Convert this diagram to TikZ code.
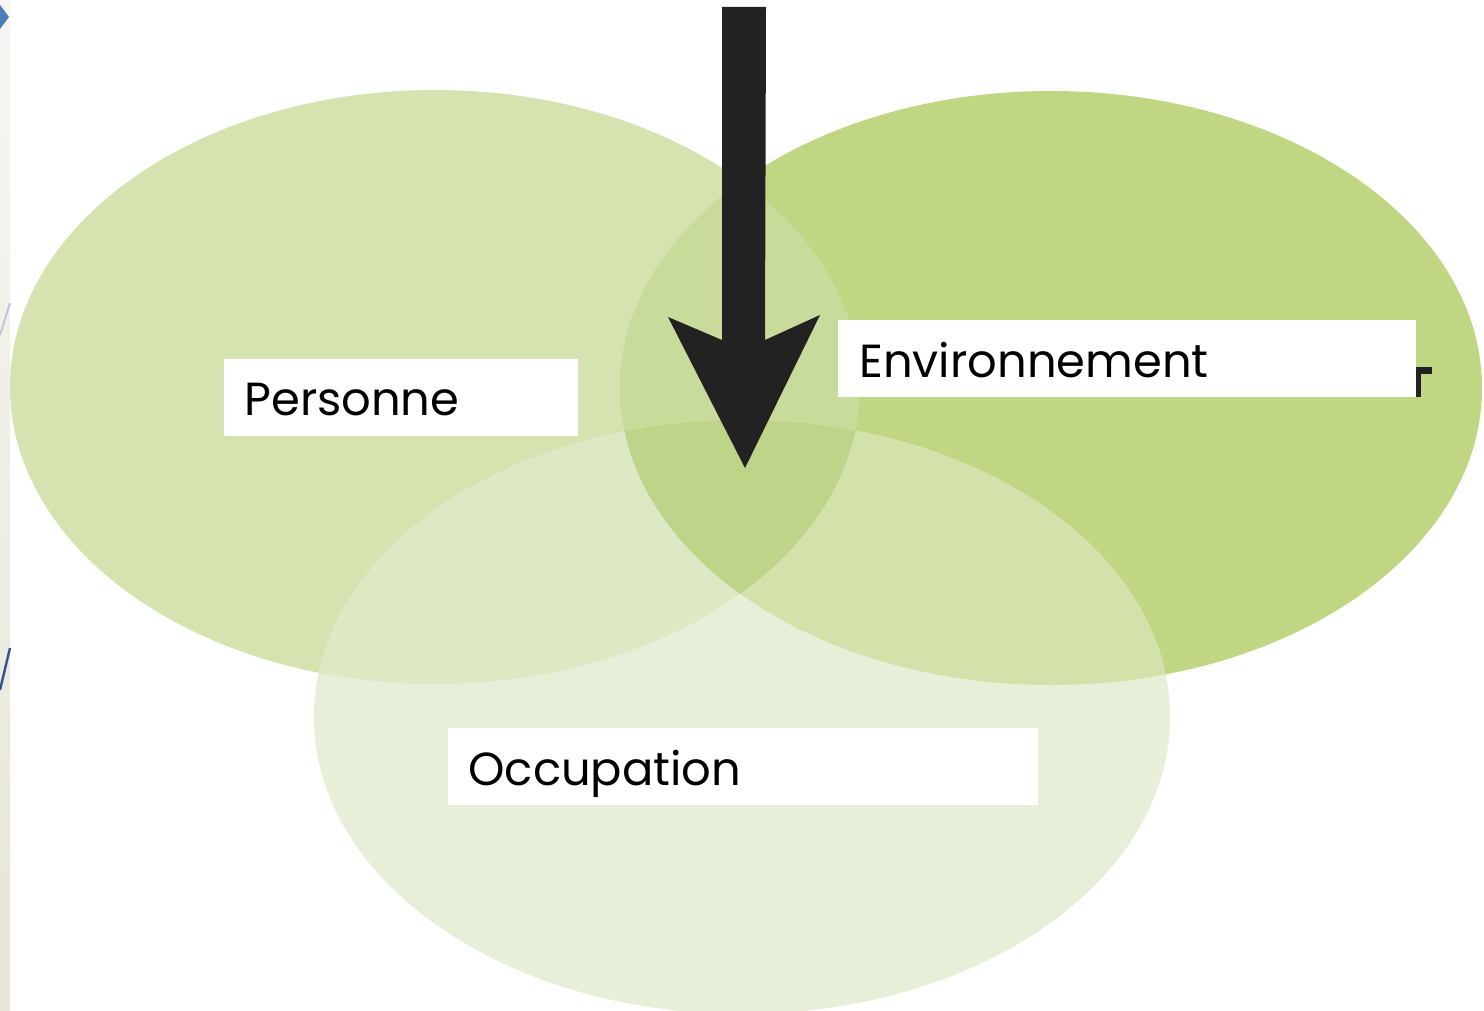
\documentclass[tikz,border=0pt]{standalone}
\usepackage{fontspec}
\setmainfont{Poppins}
\definecolor{cL}{HTML}{D5E3B0}
\definecolor{cR}{HTML}{C1D682}
\definecolor{cB}{HTML}{E7EFD8}
\definecolor{cLR}{HTML}{C9DB9A}
\definecolor{cLB}{HTML}{DDE8C4}
\definecolor{cRB}{HTML}{D3E1AB}
\definecolor{cLRB}{HTML}{BED489}
\definecolor{arrowc}{HTML}{222222}
\definecolor{stripTop}{HTML}{F7F6F2}
\definecolor{stripBot}{HTML}{E8E4D7}
\definecolor{blueA}{HTML}{4A7EBB}
\definecolor{blueB}{HTML}{B9C9E0}
\definecolor{blueC}{HTML}{2F5597}
\begin{document}
\begin{tikzpicture}[x=0.5pt,y=-0.5pt,
  lblbox/.style={fill=white, draw=none, inner sep=0pt, minimum height=38.5pt},
  lbltext/.style={inner sep=0pt, anchor=base west, font=\fontsize{23.2pt}{28pt}\selectfont, text=black}]
\useasboundingbox (0,0) rectangle (1484,1011);
\fill[white] (0,0) rectangle (1484,1011);
% ellipses
\fill[cL] (435,387) ellipse [x radius=425, y radius=297];
\fill[cR] (1051,388) ellipse [x radius=431, y radius=297];
\fill[cB] (742,717) ellipse [x radius=428, y radius=297];
\begin{scope}
  \clip (435,387) ellipse [x radius=425, y radius=297];
  \fill[cLR] (1051,388) ellipse [x radius=431, y radius=297];
  \fill[cLB] (742,717) ellipse [x radius=428, y radius=297];
\end{scope}
\begin{scope}
  \clip (1051,388) ellipse [x radius=431, y radius=297];
  \fill[cRB] (742,717) ellipse [x radius=428, y radius=297];
\end{scope}
\begin{scope}
  \clip (435,387) ellipse [x radius=425, y radius=297];
  \clip (1051,388) ellipse [x radius=431, y radius=297];
  \fill[cLRB] (742,717) ellipse [x radius=428, y radius=297];
\end{scope}
% left strip
\shade[top color=stripTop, bottom color=stripBot] (0,0) rectangle (10,1011);
\fill[blueA] (0,5) -- (9,17) -- (0,29) -- cycle;
\draw[blueB, line width=1pt] (0,335) -- (10,303);
\draw[blueC, line width=1.2pt] (0,690) -- (10,648);
% residual dark mark behind Environnement box
\fill[arrowc] (1416,367) rectangle (1432,374);
\fill[arrowc] (1416,367) rectangle (1421,397);
% arrow
\fill[arrowc] (722,7) -- (766,7) -- (765,340) -- (820,315) -- (745,468)
  -- (668,317) -- (722,340) -- cycle;
% label boxes
\node[lblbox, minimum width=177pt] (pbox) at (401,397.5) {};
\node[lblbox, minimum width=289pt] (ebox) at (1127,358.5) {};
\node[lblbox, minimum width=295pt] (obox) at (743,766.5) {};
\node[lbltext] (ptxt) at (244,415) {Personne};
\node[lbltext] (etxt) at (859,377) {Environnement};
\node[lbltext] (otxt) at (468,785) {Occupation};
\end{tikzpicture}
\end{document}
